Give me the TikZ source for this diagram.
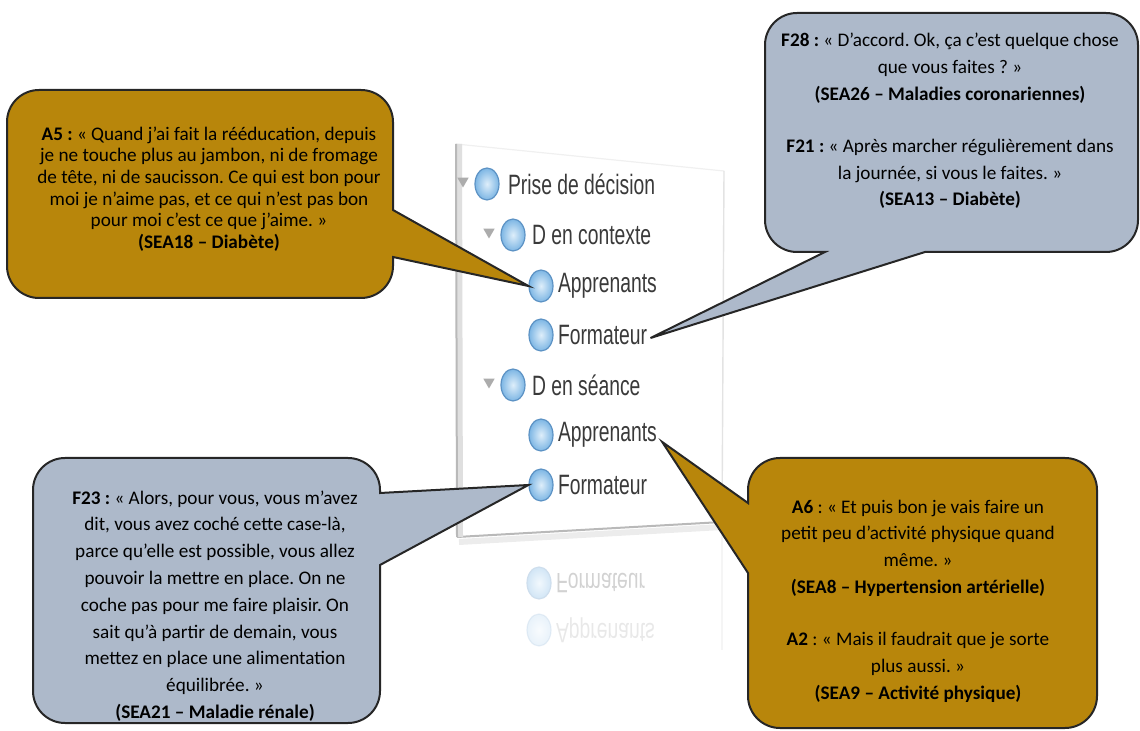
\documentclass[tikz,border=0pt]{standalone}
\usepackage{fontspec}
\usepackage{graphicx}
\setmainfont{Carlito}
\newfontfamily\treefont[FakeStretch=0.69]{Liberation Sans}
\usetikzlibrary{positioning,shapes.geometric,calc}
\frenchspacing

\definecolor{bubgold}{RGB}{184,134,11}
\definecolor{bubgray}{RGB}{173,185,202}
\definecolor{bubline}{RGB}{38,38,38}
\definecolor{ballin}{RGB}{222,238,250}
\definecolor{ballout}{RGB}{125,182,228}
\definecolor{balledge}{RGB}{92,146,196}
\definecolor{treetext}{RGB}{58,58,58}

\begin{document}
\begin{tikzpicture}[x=0.5pt, y=-0.5pt,
  goldbub/.style={draw=bubline, line width=1pt, fill=bubgold, rounded corners=16pt},
  graybub/.style={draw=bubline, line width=1pt, fill=bubgray, rounded corners=16pt},
  quote/.style={align=center, inner sep=0pt, text=black, font=\fontsize{9.6}{13.4}\selectfont},
  quotetight/.style={quote, font=\fontsize{9.6}{10.8}\selectfont},
  ball/.style={ellipse, minimum width=12pt, minimum height=16pt, inner sep=0pt,
    draw=balledge, line width=0.6pt, inner color=ballin, outer color=ballout},
  tri/.style={regular polygon, regular polygon sides=3, shape border rotate=180,
    fill=gray!65, inner sep=0pt, minimum size=6.5pt},
  item/.style={font=\treefont\fontsize{14}{14}\selectfont, text=treetext, inner sep=0pt, anchor=west},
  ghost/.style={item, text=gray!35},
  ghostball/.style={ball, draw=balledge!30, inner color=ballin!40, outer color=ballout!35}
]
\useasboundingbox (0,0) rectangle (1140,731);

%% Panel of the tree
\coordinate (pTL) at (456,144);
\coordinate (pTR) at (724,171);
\coordinate (pBR) at (722,522);
\coordinate (pBL) at (457,537);
\fill[white] (pTL) -- (pTR) -- (pBR) -- (pBL) -- cycle;
\draw[gray!12, line width=0.6pt] (pTL) -- (pTR);
\draw[gray!22, line width=0.7pt] (pTR) -- (pBR);
\draw[gray!8, line width=0.7pt] (pBR) -- (722,650);
\draw[gray!15, line width=3pt] ($(pBL)+(2,5)$) -- ($(pBR)+(0,5)$);
\draw[gray!55, line width=1pt] (pBL) -- (pBR);
\draw[gray!25, line width=3pt] ($(pTL)+(3,0)$) -- ($(pBL)+(3,0)$);
\draw[gray!55, line width=1pt] (pTL) -- (pBL);

%% Tree items
\node[tri]  (tdec) at (463,181) {};
\node[ball] (cdec) at (487,184) {};
\node[item, right=4pt of cdec] (dec) {Prise de décision};
\node[tri]  (tctx) at (489,232) {};
\node[ball] (cctx) at (513,235) {};
\node[item, right=3pt of cctx] (ctx) {D en contexte};
\node[ball] (capp1) at (541,286) {};
\node[item, right=2pt of capp1] (app1) {Apprenants};
\node[ball] (cform1) at (541,335) {};
\node[item, right=2pt of cform1] (form1) {Formateur};
\node[tri]  (tsea) at (489,382) {};
\node[ball] (csea) at (513,385) {};
\node[item, right=3pt of csea] (sea) {D en séance};
\node[ball] (capp2) at (541,435) {};
\node[item, right=2pt of capp2] (app2) {Apprenants};
\node[ball] (cform2) at (541,485) {};
\node[item, right=2pt of cform2] (form2) {Formateur};

%% Reflection under the panel
\node[ghostball] (rform) at (539,583) {};
\node[ghost, right=2pt of rform] (rformt) {\scalebox{1}[-1]{Formateur}};
\node[ghostball, opacity=0.5] (rapp) at (539,630) {};
\node[ghost, right=2pt of rapp, opacity=0.5] (rappt) {\scalebox{1}[-1]{Apprenants}};

%% Bubble A5 (pointer to Apprenants, D en contexte)
\coordinate (a5nw) at (7,90);
\coordinate (a5se) at (393,298);
\draw[goldbub] ($(a5se |- a5nw)+(0,167)$) -- (a5se) -- (a5nw |- a5se) -- (a5nw)
  -- (a5se |- a5nw) [sharp corners] -- ($(a5se |- a5nw)+(0,120)$) -- (capp1.west) -- cycle;
\node[quotetight] (a5) at (209,189) {\textbf{A5 :} « Quand j’ai fait la rééducation, depuis\\
  je ne touche plus au jambon, ni de fromage\\
  de tête, ni de saucisson. Ce qui est bon pour\\
  moi je n’aime pas, et ce qui n’est pas bon\\
  pour moi c’est ce que j’aime. »\\
  \textbf{(SEA18 – Diabète)}};

%% Bubble F28 / F21 (pointer to Formateur, D en contexte)
\coordinate (f28nw) at (765,13);
\coordinate (f28se) at (1138,252);
\draw[graybub] (925,252) -- (f28se) -- (f28se |- f28nw) -- (f28nw) -- (f28nw |- f28se)
  [sharp corners] -- (825,252) -- ($(form1.east)+(3,3)$) -- cycle;
\node[quote] (f28) at (950,121) {\textbf{F28 :} « D’accord. Ok, ça c’est quelque chose\\
  que vous faites ? »\\
  \textbf{(SEA26 – Maladies coronariennes)}\\[12.6pt]
  \textbf{F21 :} « Après marcher régulièrement dans\\
  la journée, si vous le faites. »\\
  \textbf{(SEA13 – Diabète)}};

%% Bubble F23 (pointer to Formateur, D en séance)
\coordinate (f23nw) at (33,458);
\coordinate (f23se) at (380,723);
\draw[graybub] (380,565) -- (f23se) -- (f23nw |- f23se) -- (f23nw) -- (f23se |- f23nw)
  [sharp corners] -- (380,493) -- (cform2.west) -- cycle;
\node[quote] (f23) at (215,606) {\textbf{F23 :} « Alors, pour vous, vous m’avez\\
  dit, vous avez coché cette case-là,\\
  parce qu’elle est possible, vous allez\\
  pouvoir la mettre en place. On ne\\
  coche pas pour me faire plaisir. On\\
  sait qu’à partir de demain, vous\\
  mettez en place une alimentation\\
  équilibrée. »\\
  \textbf{(SEA21 – Maladie rénale)}};

%% Bubble A6 / A2 (pointer to Apprenants, D en séance)
\coordinate (a6nw) at (748,458);
\coordinate (a6se) at (1097,728);
\draw[goldbub] (748,503) -- (a6nw) -- (a6se |- a6nw) -- (a6se) -- (a6nw |- a6se)
  [sharp corners] -- (748,573) -- ($(app2.east)+(5,7)$) -- cycle;
\node[quote] (a6) at (918,601) {\textbf{A6} : « Et puis bon je vais faire un\\
  petit peu d’activité physique quand\\
  même. »\\
  \textbf{(SEA8 – Hypertension artérielle)}\\[12.6pt]
  \textbf{A2} : « Mais il faudrait que je sorte\\
  plus aussi. »\\
  \textbf{(SEA9 – Activité physique)}};
\end{tikzpicture}
\end{document}
